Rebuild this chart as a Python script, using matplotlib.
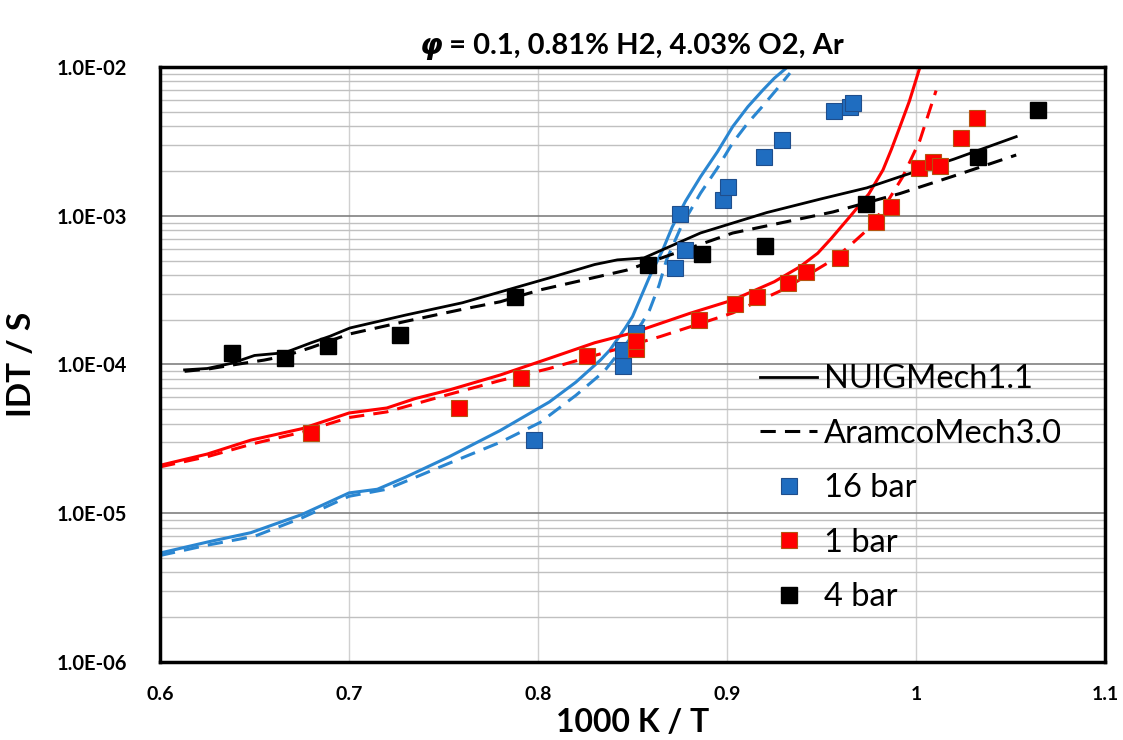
import matplotlib
matplotlib.use("Agg")
import matplotlib.pyplot as plt
from matplotlib.ticker import FixedLocator, LogLocator, NullFormatter

plt.rcParams['font.family'] = ['Lato', 'DejaVu Sans']

# experimental data (1000/T, IDT in s)
x_16 = [0.798, 0.845, 0.845, 0.852, 0.8725, 0.8778, 0.875, 0.898, 0.9005, 0.9196, 0.929, 0.9566, 0.965, 0.9667]
y_16 = [3.1e-5, 9.8e-5, 1.25e-4, 1.63e-4, 4.46e-4, 5.89e-4, 1.03e-3, 1.28e-3, 1.56e-3, 2.48e-3, 3.23e-3, 5.06e-3, 5.38e-3, 5.73e-3]

x_1 = [0.680, 0.758, 0.791, 0.826, 0.852, 0.852, 0.885, 0.904, 0.916, 0.932, 0.942, 0.960, 0.979, 0.987, 1.0016, 1.009, 1.0127, 1.024, 1.032]
y_1 = [3.47e-5, 5.1e-5, 8.1e-5, 1.14e-4, 1.27e-4, 1.44e-4, 2.0e-4, 2.55e-4, 2.84e-4, 3.53e-4, 4.18e-4, 5.2e-4, 9.1e-4, 1.15e-3, 2.1e-3, 2.3e-3, 2.16e-3, 3.33e-3, 4.54e-3]

x_4 = [0.638, 0.666, 0.689, 0.727, 0.788, 0.858, 0.887, 0.920, 0.9735, 1.033, 1.0646]
y_4 = [1.19e-4, 1.1e-4, 1.33e-4, 1.58e-4, 2.84e-4, 4.67e-4, 5.53e-4, 6.26e-4, 1.2e-3, 2.49e-3, 5.14e-3]

# simulations
nuig_16_x = [0.600, 0.625, 0.648, 0.675, 0.700, 0.715, 0.730, 0.753, 0.780, 0.806, 0.820, 0.833, 0.838, 0.846, 0.850, 0.859, 0.866, 0.871, 0.878, 0.886, 0.895, 0.903, 0.911, 0.919, 0.925, 0.932]
nuig_16_y = [5.4e-6, 6.4e-6, 7.4e-6, 9.8e-6, 1.37e-5, 1.45e-5, 1.75e-5, 2.4e-5, 3.6e-5, 5.6e-5, 7.6e-5, 1.07e-4, 1.25e-4, 1.75e-4, 2.1e-4, 3.89e-4, 5.9e-4, 8.4e-4, 1.25e-3, 1.83e-3, 2.7e-3, 3.97e-3, 5.4e-3, 7.0e-3, 8.4e-3, 1.0e-2]
aram_16_x = [0.600, 0.625, 0.650, 0.675, 0.700, 0.720, 0.753, 0.780, 0.801, 0.820, 0.835, 0.848, 0.855, 0.859, 0.864, 0.868, 0.876, 0.886, 0.895, 0.903, 0.911, 0.918, 0.926, 0.9333]
aram_16_y = [5.2e-6, 6.1e-6, 7.0e-6, 9.3e-6, 1.3e-5, 1.45e-5, 2.17e-5, 3.0e-5, 4.07e-5, 6.2e-5, 9.0e-5, 1.45e-4, 1.9e-4, 2.32e-4, 3.4e-4, 5.05e-4, 8.6e-4, 1.42e-3, 2.1e-3, 3.09e-3, 4.2e-3, 5.3e-3, 7.0e-3, 9.1e-3]

nuig_1_x = [0.600, 0.625, 0.648, 0.675, 0.700, 0.720, 0.735, 0.753, 0.780, 0.806, 0.830, 0.850, 0.880, 0.903, 0.925, 0.9386, 0.948, 0.955, 0.965, 0.975, 0.9825, 0.987, 0.9915, 0.9965, 1.0021]
nuig_1_y = [2.1e-5, 2.5e-5, 3.1e-5, 3.7e-5, 4.72e-5, 5.1e-5, 5.9e-5, 6.74e-5, 8.5e-5, 1.1e-4, 1.4e-4, 1.63e-4, 2.2e-4, 2.71e-4, 3.6e-4, 4.54e-4, 5.6e-4, 7.0e-4, 9.86e-4, 1.4e-3, 2.03e-3, 2.8e-3, 3.97e-3, 5.9e-3, 1.0e-2]
aram_1_x = [0.600, 0.625, 0.650, 0.675, 0.700, 0.720, 0.753, 0.780, 0.806, 0.840, 0.8646, 0.903, 0.930, 0.956, 0.965, 0.974, 0.980, 0.985, 0.993, 1.002, 1.0106]
aram_1_y = [2.05e-5, 2.4e-5, 2.95e-5, 3.5e-5, 4.4e-5, 4.8e-5, 6.3e-5, 7.8e-5, 9.4e-5, 1.25e-4, 1.54e-4, 2.22e-4, 3.2e-4, 5.05e-4, 6.3e-4, 8.0e-4, 1.0e-3, 1.25e-3, 1.83e-3, 3.2e-3, 6.94e-3]

nuig_4_x = [0.613, 0.625, 0.638, 0.650, 0.666, 0.680, 0.690, 0.7005, 0.730, 0.760, 0.806, 0.830, 0.842, 0.856, 0.886, 0.921, 0.950, 0.974, 0.9915, 1.020, 1.053]
nuig_4_y = [9.2e-5, 9.4e-5, 1.02e-4, 1.15e-4, 1.2e-4, 1.4e-4, 1.55e-4, 1.76e-4, 2.15e-4, 2.6e-4, 3.82e-4, 4.7e-4, 5.05e-4, 5.2e-4, 7.66e-4, 1.05e-3, 1.3e-3, 1.54e-3, 1.83e-3, 2.4e-3, 3.4e-3]
aram_4_x = [0.613, 0.625, 0.640, 0.655, 0.666, 0.680, 0.700, 0.730, 0.760, 0.780, 0.801, 0.847, 0.903, 0.956, 0.9915, 1.020, 1.053]
aram_4_y = [9.0e-5, 9.3e-5, 1.0e-4, 1.07e-4, 1.14e-4, 1.3e-4, 1.6e-4, 1.95e-4, 2.35e-4, 2.64e-4, 3.17e-4, 4.31e-4, 7.65e-4, 1.06e-3, 1.41e-3, 1.85e-3, 2.56e-3]

c_blue_line = '#2A86D1'
c_blue_mk = '#1F6DC0'
c_red = '#FF0000'
c_black = '#000000'

fig = plt.figure(figsize=(11.23, 7.40), dpi=100)
ax = fig.add_axes([0.1425, 0.1054, 0.8415, 0.8041])

ax.set_yscale('log')
ax.set_xlim(0.6, 1.1)
ax.set_ylim(1e-6, 1e-2)

# grid
ax.xaxis.set_major_locator(FixedLocator([0.6, 0.7, 0.8, 0.9, 1.0, 1.1]))
ax.yaxis.set_major_locator(LogLocator(base=10, numticks=10))
ax.yaxis.set_minor_locator(LogLocator(base=10, subs=range(2, 10), numticks=50))
ax.yaxis.set_minor_formatter(NullFormatter())
ax.grid(True, which='major', axis='x', color='#d0d0d0', lw=1.0)
ax.grid(True, which='major', axis='y', color='#808080', lw=1.2)
ax.grid(True, which='minor', axis='y', color='#c0c0c0', lw=1.0)
ax.set_axisbelow(True)

# model lines
ax.plot(nuig_16_x, nuig_16_y, color=c_blue_line, lw=2.2)
ax.plot(aram_16_x, aram_16_y, color=c_blue_line, lw=2.2, ls=(0, (5, 3)))
ax.plot(nuig_1_x, nuig_1_y, color=c_red, lw=2.2)
ax.plot(aram_1_x, aram_1_y, color=c_red, lw=2.2, ls=(0, (5, 3)))
ax.plot(nuig_4_x, nuig_4_y, color=c_black, lw=2.0, label='NUIGMech1.1')
ax.plot(aram_4_x, aram_4_y, color=c_black, lw=2.2, ls=(0, (5, 3)), label='AramcoMech3.0')

# experiments
ax.plot(x_16, y_16, 's', ms=11, color=c_blue_mk, mec='#1F4E8C', mew=0.8, ls='none', label='16 bar')
ax.plot(x_1, y_1, 's', ms=11, color=c_red, mec='#B5530F', mew=0.8, ls='none', label='1 bar')
ax.plot(x_4, y_4, 's', ms=11, color=c_black, mec=c_black, ls='none', label='4 bar')

# axes cosmetics
for s in ax.spines.values():
    s.set_linewidth(2.5)
    s.set_color('black')
ax.tick_params(axis='both', which='both', length=0)
ax.tick_params(axis='y', pad=24)
ax.tick_params(axis='x', pad=17)
ax.set_xticklabels(['0.6', '0.7', '0.8', '0.9', '1', '1.1'], fontsize=14, fontweight='bold')
ax.set_yticks([1e-6, 1e-5, 1e-4, 1e-3, 1e-2])
ax.set_yticklabels(['1.0E-06', '1.0E-05', '1.0E-04', '1.0E-03', '1.0E-02'], fontsize=14.5, fontweight='bold')

ax.set_xlabel('1000 K / T', fontsize=23, fontweight='bold', labelpad=4)
ax.set_ylabel('IDT / S', fontsize=24, fontweight='bold')
ax.yaxis.set_label_coords(-0.131, 0.5)

# title: italic phi followed by the rest, centred over the plot
r = fig.canvas.get_renderer()
t1 = fig.text(0, 0.938, '\u03c6', fontsize=21, fontweight='bold', fontstyle='italic',
              family='DejaVu Sans', ha='left', va='center')
t2 = fig.text(0, 0.938, ' = 0.1, 0.81% H2, 4.03% O2, Ar', fontsize=21, fontweight='bold',
              ha='left', va='center')
w1 = t1.get_window_extent(r).width / fig.bbox.width
w2 = t2.get_window_extent(r).width / fig.bbox.width
x0 = 0.5625 - (w1 + w2) / 2
t1.set_x(x0)
t2.set_x(x0 + w1)

leg = ax.legend(loc='center left', bbox_to_anchor=(0.635, 0.292), frameon=False, fontsize=23.5,
                handlelength=1.75, labelspacing=0.75, handletextpad=0.22, borderpad=0,
                borderaxespad=0, markerscale=1.1)

fig.savefig('out.png', dpi=100)
